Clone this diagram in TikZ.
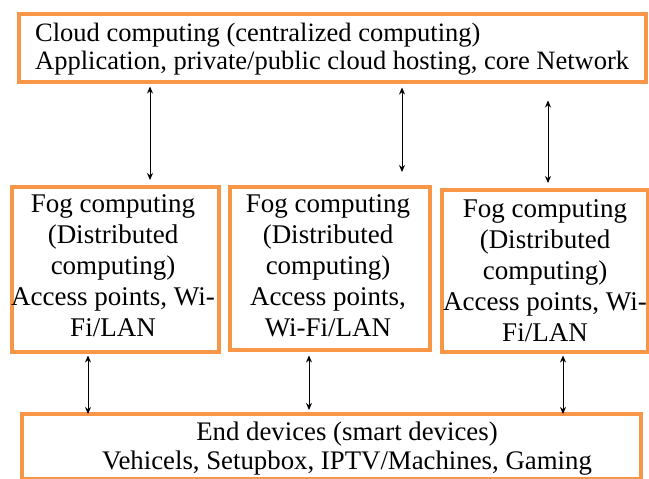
\documentclass[tikz,border=0pt]{standalone}
\usepackage{fontspec}
\setmainfont{Liberation Serif}
\usetikzlibrary{arrows.meta}
\definecolor{boxorange}{HTML}{F79646}
\begin{document}
\begin{tikzpicture}[x=1pt,y=-1pt,
  box/.style={draw=boxorange, line width=3.5pt, inner sep=0pt, anchor=north west},
  link/.style={{Stealth[length=7pt,width=6pt]}-{Stealth[length=7pt,width=6pt]}, line width=0.9pt},
  lbl/.style={font=\fontsize{27}{31}\selectfont, align=center, inner sep=0pt}]
\useasboundingbox (0,0) rectangle (649,479);
% boxes
\node[box, minimum width=627pt, minimum height=68pt] (cloud) at (17,12) {};
\node[box, minimum width=207pt, minimum height=165pt] (fog1) at (10,185) {};
\node[box, minimum width=200pt, minimum height=163pt] (fog2) at (228,185) {};
\node[box, minimum width=206pt, minimum height=162pt] (fog3) at (440,188) {};
\node[box, minimum width=619pt, minimum height=65pt] (endd) at (20,412) {};
% texts
\node[lbl, align=left, anchor=west, font=\fontsize{26.5}{28}\selectfont] (cloudt) at (35,49)
  {Cloud computing (centralized computing)\\Application, private/public cloud hosting, core Network};
\node[lbl] (fog1t) at (113,266) {Fog computing\\(Distributed\\computing)\\Access points, Wi-\\Fi/LAN};
\node[lbl] (fog2t) at (328,266) {Fog computing\\(Distributed\\computing)\\Access points,\\Wi-Fi/LAN};
\node[lbl] (fog3t) at (545,271) {Fog computing\\(Distributed\\computing)\\Access points, Wi-\\Fi/LAN};
\node[lbl, font=\fontsize{26.8}{29}\selectfont] (endt) at (347,449) {End devices (smart devices)\\Vehicels, Setupbox, IPTV/Machines, Gaming};
% connector columns
\coordinate (c1) at (150,0);
\coordinate (c2) at (402,0);
\coordinate (c3) at (548,0);
\coordinate (d1) at (88,0);
\coordinate (d2) at (309,0);
\coordinate (d3) at (563,0);
% connectors
\draw[link, shorten <=3pt, shorten >=5pt] (cloud.south -| c1) -- (fog1.north -| c1);
\draw[link, shorten <=4pt, shorten >=13pt] (cloud.south -| c2) -- (fog2.north -| c2);
\draw[link, shorten <=17pt, shorten >=5pt] (cloud.south -| c3) -- (fog3.north -| c3);
\draw[link, shorten <=2pt, shorten >=-2pt] (fog1.south -| d1) -- (endd.north -| d1);
\draw[link, shorten <=4pt, shorten >=2pt] (fog2.south -| d2) -- (endd.north -| d2);
\draw[link, shorten <=2pt, shorten >=-2pt] (fog3.south -| d3) -- (endd.north -| d3);
\end{tikzpicture}
\end{document}
